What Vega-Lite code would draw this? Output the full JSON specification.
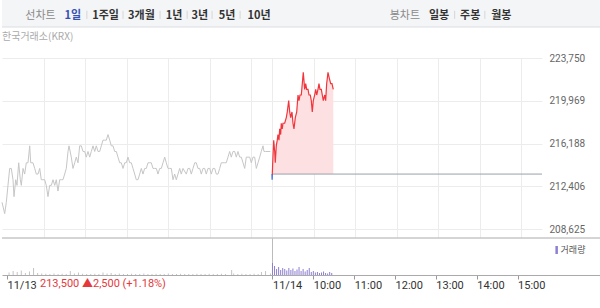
{
  "$schema": "https://vega.github.io/schema/vega-lite/v6.json",
  "padding": 0,
  "autosize": {"type": "pad"},
  "config": {
    "font": "Roboto, 'Noto Sans CJK KR', sans-serif",
    "view": {"stroke": null},
    "title": {"font": "'Noto Sans CJK KR', sans-serif"}
  },
  "datasets": {
    "menu": [
      {"label": "선차트", "slot": -0.1, "kind": "type"},
      {"label": "1일", "slot": 0.94, "kind": "selected"},
      {"label": "1주일", "slot": 1.99, "kind": "option"},
      {"label": "3개월", "slot": 3.14, "kind": "option"},
      {"label": "1년", "slot": 4.19, "kind": "option"},
      {"label": "3년", "slot": 5.02, "kind": "option"},
      {"label": "5년", "slot": 5.89, "kind": "option"},
      {"label": "10년", "slot": 6.92, "kind": "option"},
      {"label": "봉차트", "slot": 11.6, "kind": "type"},
      {"label": "일봉", "slot": 12.7, "kind": "option"},
      {"label": "주봉", "slot": 13.7, "kind": "option"},
      {"label": "월봉", "slot": 14.7, "kind": "option"}
    ],
    "seps": [
      {"slot": 1.39}, {"slot": 2.55}, {"slot": 3.74}, {"slot": 4.61}, {"slot": 5.41}, {"slot": 6.31},
      {"slot": 13.2}, {"slot": 14.17}
    ],
    "prev": [
      {"t":0.0,"p":211000},{"t":0.065,"p":210000},{"t":0.104,"p":211000},{"t":0.144,"p":212500},{"t":0.185,"p":214000},{"t":0.224,"p":214000},{"t":0.265,"p":213000},{"t":0.289,"p":211500},{"t":0.33,"p":213000},{"t":0.361,"p":212500},{"t":0.402,"p":214500},{"t":0.441,"p":213000},{"t":0.465,"p":212500},{"t":0.506,"p":214000},{"t":0.546,"p":213500},{"t":0.585,"p":214500},{"t":0.626,"p":214500},{"t":0.667,"p":216000},{"t":0.691,"p":214500},{"t":0.746,"p":214500},{"t":0.787,"p":214000},{"t":0.826,"p":213500},{"t":0.867,"p":213500},{"t":0.908,"p":214000},{"t":0.946,"p":213000},{"t":0.987,"p":213000},{"t":1.028,"p":213000},{"t":1.066,"p":212500},{"t":1.107,"p":211500},{"t":1.148,"p":212500},{"t":1.187,"p":212500},{"t":1.228,"p":213000},{"t":1.269,"p":212500},{"t":1.307,"p":213000},{"t":1.348,"p":212000},{"t":1.389,"p":213000},{"t":1.428,"p":213000},{"t":1.468,"p":213000},{"t":1.509,"p":213500},{"t":1.548,"p":214000},{"t":1.589,"p":215500},{"t":1.613,"p":216000},{"t":1.668,"p":215000},{"t":1.709,"p":214000},{"t":1.75,"p":214500},{"t":1.789,"p":215000},{"t":1.83,"p":214500},{"t":1.87,"p":216000},{"t":1.909,"p":216000},{"t":1.95,"p":215500},{"t":1.991,"p":215500},{"t":2.029,"p":215000},{"t":2.07,"p":215500},{"t":2.111,"p":215000},{"t":2.15,"p":215500},{"t":2.191,"p":216000},{"t":2.232,"p":215500},{"t":2.27,"p":216000},{"t":2.311,"p":215500},{"t":2.352,"p":215500},{"t":2.391,"p":216000},{"t":2.431,"p":216500},{"t":2.472,"p":216500},{"t":2.511,"p":216500},{"t":2.552,"p":217000},{"t":2.593,"p":216500},{"t":2.631,"p":216000},{"t":2.672,"p":216000},{"t":2.713,"p":215500},{"t":2.752,"p":215500},{"t":2.792,"p":215000},{"t":2.833,"p":214500},{"t":2.872,"p":214500},{"t":2.913,"p":214000},{"t":2.954,"p":214500},{"t":2.992,"p":214500},{"t":3.033,"p":215000},{"t":3.074,"p":214500},{"t":3.113,"p":214500},{"t":3.154,"p":214000},{"t":3.194,"p":213500},{"t":3.233,"p":213000},{"t":3.274,"p":213000},{"t":3.315,"p":213500},{"t":3.354,"p":214000},{"t":3.394,"p":213500},{"t":3.435,"p":214000},{"t":3.474,"p":214000},{"t":3.515,"p":214500},{"t":3.556,"p":214500},{"t":3.594,"p":214500},{"t":3.635,"p":214000},{"t":3.676,"p":214000},{"t":3.715,"p":214000},{"t":3.755,"p":213500},{"t":3.796,"p":214000},{"t":3.835,"p":214000},{"t":3.876,"p":214500},{"t":3.917,"p":215000},{"t":3.955,"p":214500},{"t":3.996,"p":214000},{"t":4.037,"p":214000},{"t":4.076,"p":214000},{"t":4.117,"p":213000},{"t":4.157,"p":213500},{"t":4.196,"p":213000},{"t":4.237,"p":213500},{"t":4.278,"p":214000},{"t":4.316,"p":213500},{"t":4.357,"p":214000},{"t":4.437,"p":213500},{"t":4.478,"p":214000},{"t":4.519,"p":214000},{"t":4.557,"p":213500},{"t":4.598,"p":214000},{"t":4.639,"p":214500},{"t":4.677,"p":214500},{"t":4.718,"p":214000},{"t":4.759,"p":214000},{"t":4.798,"p":213500},{"t":4.839,"p":214000},{"t":4.879,"p":214000},{"t":4.918,"p":213500},{"t":4.959,"p":214000},{"t":5.0,"p":214000},{"t":5.039,"p":213500},{"t":5.079,"p":214000},{"t":5.12,"p":214000},{"t":5.159,"p":213500},{"t":5.2,"p":213500},{"t":5.241,"p":214000},{"t":5.279,"p":214500},{"t":5.32,"p":214500},{"t":5.361,"p":214500},{"t":5.4,"p":214500},{"t":5.44,"p":215000},{"t":5.481,"p":215500},{"t":5.52,"p":215000},{"t":5.561,"p":215500},{"t":5.602,"p":215500},{"t":5.641,"p":215000},{"t":5.681,"p":215500},{"t":5.722,"p":215000},{"t":5.761,"p":215000},{"t":5.802,"p":214500},{"t":5.843,"p":214000},{"t":5.881,"p":215000},{"t":5.922,"p":215000},{"t":5.963,"p":215000},{"t":6.002,"p":214500},{"t":6.043,"p":215000},{"t":6.083,"p":215000},{"t":6.122,"p":214000},{"t":6.163,"p":214500},{"t":6.204,"p":215000},{"t":6.242,"p":215500},{"t":6.283,"p":216000},{"t":6.307,"p":215500},{"t":6.348,"p":215500},{"t":6.404,"p":215500},{"t":6.459,"p":215500}
    ],
    "today": [
      {"t":6.5,"p":213500},{"t":6.507,"p":213500},{"t":6.517,"p":214500},{"t":6.541,"p":216500},{"t":6.565,"p":215500},{"t":6.579,"p":214500},{"t":6.603,"p":216000},{"t":6.627,"p":216500},{"t":6.644,"p":217000},{"t":6.668,"p":216500},{"t":6.685,"p":217500},{"t":6.709,"p":217000},{"t":6.723,"p":218000},{"t":6.747,"p":217500},{"t":6.764,"p":218000},{"t":6.805,"p":218000},{"t":6.844,"p":218500},{"t":6.868,"p":219000},{"t":6.902,"p":220000},{"t":6.926,"p":219000},{"t":6.95,"p":218500},{"t":6.981,"p":219000},{"t":7.005,"p":218000},{"t":7.029,"p":217500},{"t":7.061,"p":218500},{"t":7.095,"p":219000},{"t":7.126,"p":220500},{"t":7.15,"p":220000},{"t":7.174,"p":220500},{"t":7.205,"p":220500},{"t":7.229,"p":221500},{"t":7.253,"p":222500},{"t":7.287,"p":221000},{"t":7.311,"p":221500},{"t":7.335,"p":221000},{"t":7.367,"p":221000},{"t":7.391,"p":220500},{"t":7.422,"p":220500},{"t":7.446,"p":220000},{"t":7.47,"p":219000},{"t":7.494,"p":220000},{"t":7.528,"p":220500},{"t":7.552,"p":221000},{"t":7.576,"p":220500},{"t":7.607,"p":221000},{"t":7.631,"p":221500},{"t":7.655,"p":221000},{"t":7.687,"p":221000},{"t":7.711,"p":220500},{"t":7.735,"p":220000},{"t":7.768,"p":220500},{"t":7.792,"p":220000},{"t":7.816,"p":221500},{"t":7.848,"p":222500},{"t":7.879,"p":222000},{"t":7.913,"p":221500},{"t":7.944,"p":221500},{"t":7.975,"p":221000}
    ],
    "dip": [
      {"t":6.5,"p":213500},{"t":6.503,"p":213000},{"t":6.507,"p":213500}
    ],
    "prevclose": [{"start": 6.5, "end": 13, "price": 213500}],
    "volprev": [
      {"t":0.05,"v":2500},{"t":0.15,"v":4000},{"t":0.25,"v":3000},{"t":0.35,"v":4500},{"t":0.45,"v":2000},{"t":0.55,"v":3500},{"t":0.65,"v":7000},{"t":0.75,"v":2000},{"t":0.85,"v":1500},{"t":0.95,"v":1200},{"t":1.05,"v":1000},{"t":1.15,"v":1500},{"t":1.25,"v":1000},{"t":1.35,"v":1200},{"t":1.45,"v":1000},{"t":1.55,"v":4000},{"t":1.65,"v":1500},{"t":1.75,"v":2500},{"t":1.85,"v":1200},{"t":1.95,"v":1000},{"t":2.05,"v":1000},{"t":2.15,"v":1200},{"t":2.25,"v":1000},{"t":2.35,"v":2500},{"t":2.45,"v":1500},{"t":2.55,"v":2000},{"t":2.65,"v":1000},{"t":2.75,"v":1500},{"t":2.85,"v":1000},{"t":2.95,"v":1000},{"t":3.05,"v":1200},{"t":3.15,"v":1000},{"t":3.25,"v":1000},{"t":3.35,"v":1500},{"t":3.45,"v":1000},{"t":3.55,"v":1000},{"t":3.65,"v":1200},{"t":3.75,"v":1000},{"t":3.85,"v":1000},{"t":3.95,"v":1500},{"t":4.05,"v":1000},{"t":4.15,"v":1000},{"t":4.25,"v":1200},{"t":4.35,"v":1000},{"t":4.45,"v":1000},{"t":4.55,"v":1000},{"t":4.65,"v":1200},{"t":4.75,"v":1000},{"t":4.85,"v":1000},{"t":4.95,"v":1200},{"t":5.05,"v":1000},{"t":5.15,"v":1000},{"t":5.25,"v":1200},{"t":5.35,"v":1000},{"t":5.5,"v":5000},{"t":5.55,"v":1500},{"t":5.65,"v":1000},{"t":5.75,"v":1200},{"t":5.85,"v":1000},{"t":5.95,"v":1000},{"t":6.05,"v":1200},{"t":6.15,"v":1000},{"t":6.23,"v":3000},{"t":6.33,"v":4000},{"t":6.45,"v":1500}
    ],
    "voltoday": [
      {"t":6.5,"v":12000},{"t":6.55,"v":9000},{"t":6.6,"v":6000},{"t":6.65,"v":8000},{"t":6.7,"v":5000},{"t":6.75,"v":7000},{"t":6.8,"v":6000},{"t":6.85,"v":4500},{"t":6.9,"v":7000},{"t":6.95,"v":5000},{"t":7.0,"v":6500},{"t":7.05,"v":4000},{"t":7.1,"v":5500},{"t":7.15,"v":8000},{"t":7.2,"v":4000},{"t":7.25,"v":6000},{"t":7.3,"v":3500},{"t":7.35,"v":5000},{"t":7.4,"v":7000},{"t":7.45,"v":3000},{"t":7.5,"v":4000},{"t":7.55,"v":2500},{"t":7.6,"v":3000},{"t":7.65,"v":2000},{"t":7.7,"v":2500},{"t":7.75,"v":3500},{"t":7.8,"v":2000},{"t":7.85,"v":1500},{"t":7.9,"v":3000},{"t":7.95,"v":2000}
    ]
  },
  "spacing": 4,
  "vconcat": [
    {
      "width": 600,
      "height": 27,
      "view": {"fill": "#f4f5f7", "stroke": null},
      "layer": [
        {
          "data": {"values": [{}]},
          "mark": {"type": "rule", "color": "#dcdde1"},
          "encoding": {"y": {"datum": 0, "type": "quantitative", "scale": {"domain": [0, 1]}, "axis": null}}
        },
        {
          "data": {"name": "seps"},
          "mark": {"type": "rule", "color": "#d6d6d6"},
          "encoding": {
            "x": {"field": "slot", "type": "quantitative", "scale": {"domain": [-1.336, 17.932], "nice": false, "zero": false}, "axis": null},
            "y": {"datum": 0.3},
            "y2": {"datum": 0.6}
          }
        },
        {
          "data": {"name": "menu"},
          "transform": [{"filter": "datum.kind === 'type'"}],
          "mark": {"type": "text", "fontSize": 11, "fontWeight": "normal", "color": "#8a8a8a", "align": "center", "baseline": "middle", "font": "'Noto Sans CJK KR', sans-serif"},
          "encoding": {
            "x": {"field": "slot", "type": "quantitative"},
            "y": {"datum": 0.42},
            "text": {"field": "label"}
          }
        },
        {
          "data": {"name": "menu"},
          "transform": [{"filter": "datum.kind !== 'type'"}],
          "mark": {"type": "text", "fontSize": 11, "fontWeight": "bold", "align": "center", "baseline": "middle", "font": "'Noto Sans CJK KR', sans-serif"},
          "encoding": {
            "x": {"field": "slot", "type": "quantitative"},
            "y": {"datum": 0.42},
            "text": {"field": "label"},
            "color": {"condition": {"test": "datum.kind === 'selected'", "value": "#3452b4"}, "value": "#333333"}
          }
        }
      ]
    },
    {
      "spacing": 0,
      "vconcat": [
        {
          "width": 540,
          "height": 179,
          "title": {"text": "한국거래소(KRX)", "anchor": "start", "frame": "group", "fontSize": 10, "fontWeight": "normal", "color": "#aaaaaa", "offset": 11},
          "view": {"stroke": null},
          "layer": [
            {
              "data": {"name": "today"},
              "mark": {"type": "area", "color": "#fde1e2", "opacity": 1},
              "encoding": {
                "x": {"field": "t", "type": "quantitative", "scale": {"domain": [0, 13], "nice": false, "zero": false},
                  "axis": {"values": [1, 2, 3, 4, 5, 6, 6.5, 7.5, 8.5, 9.5, 10.5, 11.5, 12.5], "grid": true, "gridColor": "#ececec", "labels": false, "ticks": false, "domain": false, "title": null}},
                "y": {"field": "p", "type": "quantitative", "scale": {"domain": [207930, 223775], "nice": false, "zero": false},
                  "axis": {"orient": "right", "values": [208625, 212406, 216188, 219969, 223750], "format": ",.0f", "grid": true, "gridColor": "#ececec", "ticks": false, "domain": false, "labelPadding": 7, "labelFontSize": 10, "labelColor": "#666666", "title": null}},
                "y2": {"datum": 213500}
              }
            },
            {
              "data": {"name": "prev"},
              "mark": {"type": "line", "color": "#c6c6c6", "strokeWidth": 1},
              "encoding": {
                "x": {"field": "t", "type": "quantitative"},
                "y": {"field": "p", "type": "quantitative"}
              }
            },
            {
              "data": {"name": "prevclose"},
              "mark": {"type": "rule", "color": "#97a1ac", "strokeWidth": 1},
              "encoding": {
                "x": {"field": "start", "type": "quantitative"},
                "x2": {"field": "end"},
                "y": {"field": "price", "type": "quantitative"}
              }
            },
            {
              "data": {"name": "dip"},
              "mark": {"type": "line", "color": "#3467d6", "strokeWidth": 1.2},
              "encoding": {
                "x": {"field": "t", "type": "quantitative"},
                "y": {"field": "p", "type": "quantitative"}
              }
            },
            {
              "data": {"name": "today"},
              "mark": {"type": "line", "color": "#f0363c", "strokeWidth": 1.2},
              "encoding": {
                "x": {"field": "t", "type": "quantitative"},
                "y": {"field": "p", "type": "quantitative"}
              }
            }
          ]
        },
        {
          "width": 598,
          "height": 37,
          "view": {"stroke": null},
          "layer": [
            {
              "data": {"name": "volprev"},
              "mark": {"type": "bar", "width": 1, "color": "#c4c4c4"},
              "encoding": {
                "x": {"field": "t", "type": "quantitative", "scale": {"domain": [0, 14.396], "nice": false, "zero": false},
                  "axis": {"values": [0, 6.5, 7.5, 8.5, 9.5, 10.5, 11.5, 12.5],
                    "labelExpr": "datum.value == 0 ? '11/13' : (datum.value == 6.5 ? '11/14' : (floor(datum.value - 6.5) + 9) + ':00')",
                    "labelAlign": "left", "labelFontSize": 11, "labelColor": "#333333", "labelPadding": 0, "labelFlush": false, "labelOverlap": false, "labelBound": false,
                    "tickSize": 4, "tickColor": "#999999", "domain": true, "domainColor": "#aaaaaa",
                    "grid": true, "gridColor": {"condition": {"test": "datum.value === 6.5", "value": "#bbbbbb"}, "value": "transparent"},
                    "title": null}},
                "y": {"field": "v", "type": "quantitative", "scale": {"domain": [0, 37000], "nice": false}, "axis": null}
              }
            },
            {
              "data": {"name": "voltoday"},
              "mark": {"type": "bar", "width": 1, "color": "#8d7fd3"},
              "encoding": {
                "x": {"field": "t", "type": "quantitative"},
                "y": {"field": "v", "type": "quantitative"}
              }
            },
            {
              "data": {"values": [{}]},
              "mark": {"type": "rule", "color": "#aaaaaa"},
              "encoding": {"y": {"datum": 37000, "type": "quantitative"}}
            },
            {
              "data": {"values": [{"series": "거래량", "top": 29000, "bottom": 21000}]},
              "mark": {"type": "rule", "color": "#8d7fd3", "strokeWidth": 2.5},
              "encoding": {
                "x": {"datum": 13.457, "type": "quantitative"},
                "y": {"field": "top", "type": "quantitative"},
                "y2": {"field": "bottom"}
              }
            },
            {
              "data": {"values": [{"series": "거래량", "mid": 25000}]},
              "mark": {"type": "text", "color": "#555555", "fontSize": 9, "align": "left", "baseline": "middle", "font": "'Noto Sans CJK KR', sans-serif"},
              "encoding": {
                "x": {"datum": 13.553, "type": "quantitative"},
                "y": {"field": "mid", "type": "quantitative"},
                "text": {"field": "series"}
              }
            },
            {
              "data": {"values": [{"label": "213,500 ▲2,500 (+1.18%)"}]},
              "mark": {"type": "text", "color": "#e5383b", "fontSize": 11, "align": "left", "baseline": "middle", "dx": 33, "dy": 9},
              "encoding": {
                "x": {"datum": 0, "type": "quantitative"},
                "y": {"datum": 0, "type": "quantitative"},
                "text": {"field": "label"}
              }
            }
          ]
        }
      ]
    }
  ]
}
